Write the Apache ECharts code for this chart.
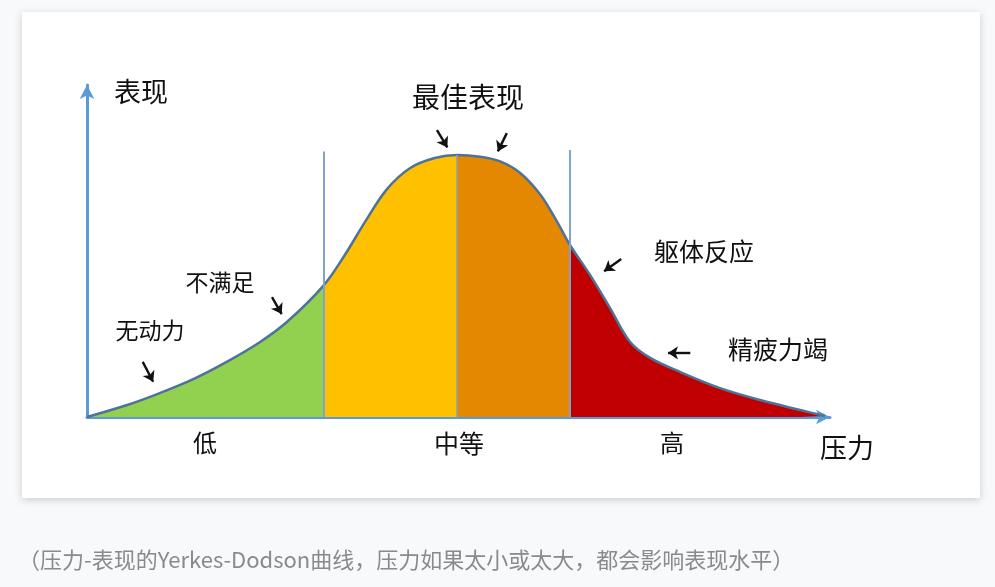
<!DOCTYPE html>
<html>
<head>
<meta charset="utf-8">
<script src="https://cdn.jsdelivr.net/npm/echarts@6/dist/echarts.min.js"></script>
<style>
html,body{margin:0;padding:0;background:#f7f9fb;}
#c{width:995px;height:587px;}
</style>
</head>
<body>
<div id="c"></div>
<script>
// Stress (x, 0-100) and performance (y, 0-100)
var stress      = [0, 5.4, 9.8, 14.3, 18.8, 23.3, 26.9, 31.8, 34.7, 37.4, 40.4, 43.5, 46.8, 49.8, 52.9, 55.6, 58.3, 61.0, 63.3, 65.0, 67.7, 70.4, 73.1, 75.8, 79.8, 85.2, 90.6, 96.0, 99.3];
var performance = [0, 3.6, 7.2, 11.4, 16.6, 22.6, 28.6, 39.5, 48.8, 58.7, 68.7, 75.0, 78.0, 78.9, 78.4, 77.0, 73.5, 67.0, 58.7, 51.8, 42.8, 32.8, 22.6, 17.8, 13.6, 8.7, 5.1, 2.1, 0.3];
// Zone boundaries on the stress axis
var zoneBounds = [0, 31.8, 49.8, 65.0, 100];
var zoneColors = ['#92d050', '#ffc000', '#e38800', '#c00000'];
var divTop = [80, 80.4];
var stressLevels = ['低', '中等', '高'];
var yName = '表现', xName = '压力';
var notes = ['无动力', '不满足', '最佳表现', '躯体反应', '精疲力竭'];
var caption = '（压力-表现的Yerkes-Dodson曲线，压力如果太小或太大，都会影响表现水平）';

var pts = stress.map(function (x, i) { return [x, performance[i]]; });

var series = [];
for (var z = 0; z < 4; z++) {
  var lo = zoneBounds[z], hi = zoneBounds[z + 1];
  series.push({
    type: 'line', smooth: 0.35, symbol: 'none', silent: true, z: 2,
    lineStyle: { width: 0 },
    areaStyle: { color: zoneColors[z], opacity: 1 },
    data: pts.filter(function (p) { return p[0] >= lo - 1e-6 && p[0] <= hi + 1e-6; })
  });
}
var peak = pts[13];
series.push({
  type: 'line', smooth: 0.35, symbol: 'none', silent: true, z: 4,
  lineStyle: { color: '#4f7396', width: 2.5 },
  data: pts,
  markLine: {
    silent: true, symbol: 'none', animation: false,
    label: { show: false },
    data: [
      [{ coord: [zoneBounds[1], 0], lineStyle: { color: '#7ea3cc', width: 2, type: 'solid' } }, { coord: [zoneBounds[1], divTop[0]] }],
      [{ coord: [zoneBounds[3], 0], lineStyle: { color: '#7ea3cc', width: 2, type: 'solid' } }, { coord: [zoneBounds[3], divTop[1]] }],
      [{ coord: [peak[0], 0], lineStyle: { color: '#8aa0b8', width: 1.5, type: 'solid' } }, { coord: [peak[0], peak[1]] }]
    ]
  }
});
// annotation arrows (data coords)
var arrows = [
  [[7.5, 16.6], [8.9, 10.6]],
  [[24.9, 36.1], [26.2, 31.0]],
  [[47.1, 86.4], [48.5, 81.2]],
  [[56.5, 85.5], [55.3, 80.0]],
  [[71.9, 47.6], [69.6, 43.9]],
  [[81.2, 19.3], [78.2, 19.3]]
];
series.push({
  type: 'line', data: [], silent: true,
  markLine: {
    silent: true, animation: false, symbol: ['none', 'arrow'], symbolSize: 10,
    label: { show: false },
    lineStyle: { color: '#111', width: 2.4, type: 'solid' },
    data: arrows.map(function (a) { return [{ coord: a[0] }, { coord: a[1] }]; })
  }
});

var cjk = '"Noto Sans CJK SC", "Noto Sans", sans-serif';
function T(x, y, s, size) {
  return { type: 'text', z: 10, style: { text: s, x: x, y: y, font: size + 'px ' + cjk, fill: '#111', textAlign: 'center', textVerticalAlign: 'middle' } };
}

var chart = echarts.init(document.getElementById('c'));
chart.setOption({
  animation: false,
  backgroundColor: '#f7f9fb',
  grid: { left: 87, right: 165, top: 85, bottom: 170 },
  xAxis: {
    type: 'value', min: 0, max: 100,
    axisLine: { show: true, onZero: false, symbol: ['none', 'arrow'], symbolSize: [11, 14], lineStyle: { color: '#5b9bd5', width: 3 } },
    axisTick: { show: false }, axisLabel: { show: false }, splitLine: { show: false }
  },
  yAxis: {
    type: 'value', min: 0, max: 100,
    axisLine: { show: true, onZero: false, symbol: ['none', 'arrow'], symbolSize: [11, 14], lineStyle: { color: '#5b9bd5', width: 3 } },
    axisTick: { show: false }, axisLabel: { show: false }, splitLine: { show: false }
  },
  graphic: [
    { type: 'rect', z: -10, shape: { x: 22, y: 12, width: 958, height: 486 },
      style: { fill: '#ffffff', shadowBlur: 8, shadowColor: 'rgba(0,0,0,0.18)', shadowOffsetY: 2 } },
    T(141, 92, yName, 27),
    T(468, 97, notes[2], 28),
    T(220, 282, notes[1], 23),
    T(150, 330, notes[0], 23),
    T(704, 251, notes[3], 25),
    T(778, 349, notes[4], 25),
    T(205, 443, stressLevels[0], 24),
    T(459, 443, stressLevels[1], 25),
    T(672, 443, stressLevels[2], 24),
    T(847, 448, xName, 27),
    { type: 'text', z: 10, style: { text: caption, x: 18, y: 560, font: '22px ' + cjk, fill: '#8a8a8a', textAlign: 'left', textVerticalAlign: 'middle' } }
  ],
  series: series
});
</script>
</body>
</html>
